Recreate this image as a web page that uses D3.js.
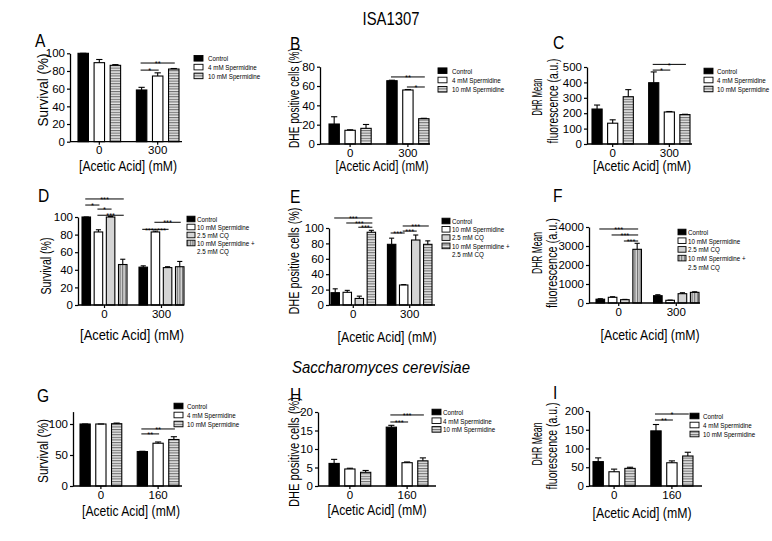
<!DOCTYPE html>
<html><head><meta charset="utf-8">
<script src="https://cdn.jsdelivr.net/npm/d3@7"></script>
<style>
body{margin:0;background:#fff}
svg{display:block}
text{font-family:"Liberation Sans", Arial, Helvetica, sans-serif; fill:#000}
</style>
</head><body>
<svg id="c" width="772" height="541"></svg>
<script>
// ---------------- DATA ----------------
const groupsISA = ["0", "300"];
const groupsSc = ["0", "160"];
const seriesSp = ["Control", "4 mM Spermidine", "10 mM Spermidine"];
const seriesCQ = ["Control", "10 mM Spermidine", "2.5 mM CQ", "10 mM Spermidine + 2.5 mM CQ"];

const ticks100 = [0, 20, 40, 60, 80, 100];
const ticks80 = [0, 20, 40, 60, 80];
const ticks500 = [0, 100, 200, 300, 400, 500];
const ticks4000 = [0, 1000, 2000, 3000, 4000];
const ticks120 = [0, 50, 100];
const ticks20 = [0, 5, 10, 15, 20];
const ticks200 = [0, 50, 100, 150, 200];

// values [group][series]
const survivalA = [[100, 89.4, 86.4], [58.5, 74.3, 82.2]];
const survivalAErr = [[0, 3.6, 0.8], [3, 3.6, 0.6]];
const dheB = [[20.7, 14.2, 16.2], [65.5, 55.9, 26.2]];
const dheBErr = [[7.5, 0.5, 4], [0.5, 0.5, 0.4]];
const dhrC = [[227, 135, 307], [398, 208, 191]];
const dhrCErr = [[26, 22, 46], [70, 3, 2]];
const survivalD = [[100, 83, 100, 46], [43, 83, 42.5, 43.5]];
const survivalDErr = [[0, 2.5, 0.5, 6], [1.5, 1, 1, 6]];
const dheE = [[16, 16.5, 8.5, 94.5], [78.8, 26, 84.4, 78.8]];
const dheEErr = [[5, 2.5, 3, 2.5], [8, 0.5, 6.5, 4.5]];
const dhrF = [[200, 300, 175, 2826], [385, 142, 490, 560]];
const dhrFErr = [[25, 30, 15, 316], [50, 12, 50, 30]];
const survivalG = [[100, 100, 100.5], [55.5, 69, 75]];
const survivalGErr = [[0, 0, 1], [0.5, 2, 4.5]];
const dheH = [[6.1, 4.6, 3.7], [15.9, 6.3, 6.8]];
const dheHErr = [[1.1, 0.2, 0.5], [0.5, 0.2, 0.8]];
const dhrI = [[65, 38, 47], [147, 62, 80]];
const dhrIErr = [[10, 7, 3], [17, 5, 10]];

// significance brackets: [group, fromSeries, toSeries, yValue, label]
const sigA = [[1, 0, 2, 89, "**"], [1, 0, 1, 81, "*"]];
const sigB = [[1, 0, 2, 69.4, "**"], [1, 1, 2, 59, "*"]];
const sigC = [[1, 0, 2, 517, "*"], [1, 0, 1, 480, "*"]];
const sigD = [[0, 0, 3, 120.5, "***"], [0, 0, 1, 113.6, "*"], [0, 1, 2, 109, "*"], [0, 1, 3, 102, "***"],
              [1, 0, 1, 86, "***"], [1, 1, 2, 86, "***"], [1, 1, 3, 94, "***"]];
const sigE = [[0, 0, 3, 113, "***"], [0, 1, 3, 106.5, "***"], [0, 2, 3, 101, "***"],
              [1, 0, 1, 93.5, "***"], [1, 1, 2, 96, "***"], [1, 1, 3, 102.6, "***"]];
const sigF = [[0, 0, 3, 3895, "***"], [0, 1, 3, 3580, "***"], [0, 2, 3, 3263, "***"]];
const sigG = [[1, 0, 2, 92, "**"], [1, 0, 1, 84, "**"]];
const sigH = [[1, 0, 2, 19.2, "***"], [1, 0, 1, 17.3, "***"]];
const sigI = [[1, 0, 2, 192, "*"], [1, 0, 1, 176, "**"]];

const fillsSp = ["black", "white", "hstripe"];
const fillsCQv = ["black", "white", "light", "vstripe"];
const fillsCQh = ["black", "white", "light", "hstripe"];

// ---------------- RENDER ----------------
const svg = d3.select("#c");
const defs = svg.append("defs");
const hs = defs.append("pattern").attr("id", "hstripe").attr("patternUnits", "userSpaceOnUse")
  .attr("width", 4).attr("height", 2.6);
hs.append("rect").attr("width", 4).attr("height", 2.6).attr("fill", "#e6e6e6");
hs.append("rect").attr("width", 4).attr("height", 1.1).attr("fill", "#6e6e6e");
const vs = defs.append("pattern").attr("id", "vstripe").attr("patternUnits", "userSpaceOnUse")
  .attr("width", 2.6).attr("height", 4);
vs.append("rect").attr("width", 2.6).attr("height", 4).attr("fill", "#d6d6d6");
vs.append("rect").attr("width", 1.1).attr("height", 4).attr("fill", "#6e6e6e");
const fillMap = { black: "#000", white: "#fff", light: "#d4d4d4", hstripe: "url(#hstripe)", vstripe: "url(#vstripe)" };

function fitText(parent, str, x, y, size, len, opts = {}) {
  const t = parent.append("text").attr("font-size", size)
    .attr("text-anchor", opts.anchor || "middle").text(str);
  if (opts.style) t.attr("font-style", opts.style);
  if (opts.baseline) t.attr("dominant-baseline", opts.baseline);
  const w = t.node().getComputedTextLength();
  const sx = len ? len / w : (opts.sx || 1);
  t.attr("transform", `translate(${x},${y})${opts.rot ? ` rotate(${opts.rot})` : ""} scale(${sx},1)`);
  return t;
}

const panels = [
  { letter: "A", groups: groupsISA, series: seriesSp, vals: survivalA, errs: survivalAErr, sig: sigA, fills: fillsSp,
    max: 100, ticks: ticks100, axX: 70, y0: 141.7, yTop: 53.3, xEnd: 182, barsL: 78, barsR: 179,
    lx: 35, ly: 47, ylab: [["Survival (%)", 43, 90, 73, 15]], xlab: [128, 171, 98],
    leg: [194, 58.3, 8.8, 14] },
  { letter: "B", groups: groupsISA, series: seriesSp, vals: dheB, errs: dheBErr, sig: sigB, fills: fillsSp,
    max: 80, ticks: ticks80, axX: 320, y0: 144, yTop: 66.7, xEnd: 430, barsL: 329, barsR: 429,
    lx: 290, ly: 50, ylab: [["DHE positive cells (%)", 294, 98, 100, 15]], xlab: [382, 170.5, 93],
    leg: [438, 70.7, 9.3, 14] },
  { letter: "C", groups: groupsISA, series: seriesSp, vals: dhrC, errs: dhrCErr, sig: sigC, fills: fillsSp,
    max: 500, ticks: ticks500, axX: 587, y0: 144, yTop: 67, xEnd: 692, barsL: 592, barsR: 690,
    lx: 553, ly: 49, ylab: [["DHR Mean", 537, 97, 37, 15], ["fluorescence (a.u.)", 553, 101, 85, 15]], xlab: [642, 171, 98],
    leg: [704, 71, 9, 13] },
  { letter: "D", groups: groupsISA, series: seriesCQ, vals: survivalD, errs: survivalDErr, sig: sigD, fills: fillsCQv,
    max: 100, ticks: ticks100, axX: 78, y0: 305, yTop: 217, xEnd: 184, barsL: 82, barsR: 184,
    lx: 38, ly: 202, ylab: [["Survival (%)", 46, 266, 57, 14]], xlab: [132, 340, 104],
    leg: [187, 219, 8, 10] },
  { letter: "E", groups: groupsISA, series: seriesCQ, vals: dheE, errs: dheEErr, sig: sigE, fills: fillsCQh,
    max: 100, ticks: ticks100, axX: 329, y0: 305, yTop: 228, xEnd: 435, barsL: 331, barsR: 432,
    lx: 290, ly: 203, ylab: [["DHE positive cells (%)", 294, 261, 107, 15]], xlab: [387, 342, 99],
    leg: [442, 221, 8.3, 10] },
  { letter: "F", groups: groupsISA, series: seriesCQ, vals: dhrF, errs: dhrFErr, sig: sigF, fills: fillsCQv,
    max: 4000, ticks: ticks4000, axX: 589, y0: 303, yTop: 227, xEnd: 700, barsL: 596, barsR: 699,
    lx: 553, ly: 202, ylab: [["DHR Mean", 537, 253, 42, 14], ["fluorescence (a.u.)", 553, 263, 90, 14]], xlab: [650, 340, 99],
    leg: [678, 232, 8.7, 10] },
  { letter: "G", groups: groupsSc, series: seriesSp, vals: survivalG, errs: survivalGErr, sig: sigG, fills: fillsSp,
    max: 120, ticks: ticks120, axX: 73, y0: 486, yTop: 411.6, xEnd: 182, barsL: 80, barsR: 179,
    lx: 37, ly: 402, ylab: [["Survival (%)", 43, 451, 64, 15]], xlab: [131, 516, 98],
    leg: [174, 406, 9, 13] },
  { letter: "H", groups: groupsSc, series: seriesSp, vals: dheH, errs: dheHErr, sig: sigH, fills: fillsSp,
    max: 20, ticks: ticks20, axX: 318, y0: 486, yTop: 412, xEnd: 436, barsL: 329, barsR: 428,
    lx: 290, ly: 401, ylab: [["DHE positive cells (%)", 294, 452, 110, 15]], xlab: [377, 515, 99],
    leg: [432, 412, 8.7, 11] },
  { letter: "I", groups: groupsSc, series: seriesSp, vals: dhrI, errs: dhrIErr, sig: sigI, fills: fillsSp,
    max: 200, ticks: ticks200, axX: 589, y0: 486, yTop: 411, xEnd: 702, barsL: 593, barsR: 693,
    lx: 553, ly: 399, ylab: [["DHR Mean", 537, 444, 43, 14], ["fluorescence (a.u.)", 552, 446, 87, 14]], xlab: [642, 518, 99],
    leg: [690, 416, 9, 13] }
];

function drawPanel(p) {
  const g = svg.append("g");
  const n = p.series.length;
  const y = d3.scaleLinear().domain([0, p.max]).range([p.y0, p.yTop]);
  const x0 = d3.scaleBand().domain(p.groups).range([p.barsL, p.barsR]).paddingInner(n === 3 ? 0.27 : 0.21);
  const x1 = d3.scaleBand().domain(d3.range(n)).range([0, x0.bandwidth()]).paddingInner(n === 3 ? 0.35 : 0.3);
  const bw = x1.bandwidth();
  const cx = (gi, si) => x0(p.groups[gi]) + x1(si) + bw / 2;

  // bars
  p.groups.forEach((gr, gi) => {
    p.series.forEach((s, si) => {
      const v = p.vals[gi][si], e = p.errs[gi][si];
      const bx = x0(gr) + x1(si);
      g.append("rect").attr("x", bx).attr("y", y(v)).attr("width", bw).attr("height", p.y0 - y(v))
        .attr("fill", fillMap[p.fills[si]]).attr("stroke", "#000").attr("stroke-width", 1.1);
      const c = bx + bw / 2;
      g.append("line").attr("x1", c).attr("x2", c).attr("y1", y(v)).attr("y2", y(v + e))
        .attr("stroke", "#000").attr("stroke-width", 1.1);
      g.append("line").attr("x1", c - bw * 0.3).attr("x2", c + bw * 0.3).attr("y1", y(v + e)).attr("y2", y(v + e))
        .attr("stroke", "#000").attr("stroke-width", 1.1);
    });
  });

  // y axis
  const ya = g.append("g").attr("transform", `translate(${p.axX},0)`)
    .call(d3.axisLeft(y).tickValues(p.ticks).tickFormat(d3.format("d")).tickSize(3).tickSizeOuter(0).tickPadding(2));
  ya.attr("font-family", null).attr("font-size", null);
  ya.select(".domain").attr("stroke", "#000").attr("stroke-width", 1.3);
  ya.selectAll(".tick line").attr("stroke", "#000").attr("stroke-width", 1.2);
  ya.selectAll(".tick text").attr("font-size", 11.5).attr("fill", "#000");

  // x axis
  const xa = g.append("g").attr("transform", `translate(0,${p.y0})`)
    .call(d3.axisBottom(x0).tickSize(3).tickSizeOuter(0).tickPadding(1.5));
  xa.attr("font-family", null).attr("font-size", null);
  xa.select(".domain").remove();
  xa.selectAll(".tick line").attr("stroke", "#000").attr("stroke-width", 1.2);
  xa.selectAll(".tick text").attr("font-size", 11.5).attr("fill", "#000");
  g.append("line").attr("x1", p.axX).attr("x2", p.xEnd).attr("y1", p.y0).attr("y2", p.y0)
    .attr("stroke", "#000").attr("stroke-width", 1.3);

  // significance
  p.sig.forEach(([gi, a, b, yv, lab]) => {
    const xa1 = cx(gi, a) - 1, xb1 = cx(gi, b) + 1, yy = y(yv);
    g.append("line").attr("x1", xa1).attr("x2", xb1).attr("y1", yy).attr("y2", yy)
      .attr("stroke", "#000").attr("stroke-width", 1);
    fitText(g, lab, (xa1 + xb1) / 2, yy + 3.2, 7.5, null, { sx: 1 });
  });

  // panel letter
  fitText(g, p.letter, p.lx, p.ly, 19, null, { anchor: "start", sx: 0.82 });

  // y label
  p.ylab.forEach(([t, x, yy, len, sz]) => {
    fitText(g, t, x, yy, sz, len, { rot: -90, baseline: "central" });
  });
  // x label
  fitText(g, "[Acetic Acid] (mM)", p.xlab[0], p.xlab[1], 15, p.xlab[2]);

  // legend
  const [lx, ly, ldy, tx] = p.leg;
  let row = 0;
  p.series.forEach((s, si) => {
    const yy = ly + row * ldy;
    g.append("rect").attr("x", lx).attr("y", yy - 2.8).attr("width", n === 4 ? 8 : 9).attr("height", 5.6)
      .attr("fill", fillMap[p.fills[si]]).attr("stroke", "#000").attr("stroke-width", 0.9);
    const lines = s.includes("+") ? [s.split("+ ")[0] + "+", s.split("+ ")[1]] : [s];
    lines.forEach((ln, li) => {
      fitText(g, ln, lx + tx, yy + 2.8 + li * ldy, 8, null, { anchor: "start", sx: 0.78 });
    });
    row += lines.length;
  });
}

panels.forEach(drawPanel);

// titles
fitText(svg, "ISA1307", 391, 25, 18, 57);
fitText(svg, "Saccharomyces cerevisiae", 381, 373, 16, 178, { style: "italic" });
</script>
</body></html>
